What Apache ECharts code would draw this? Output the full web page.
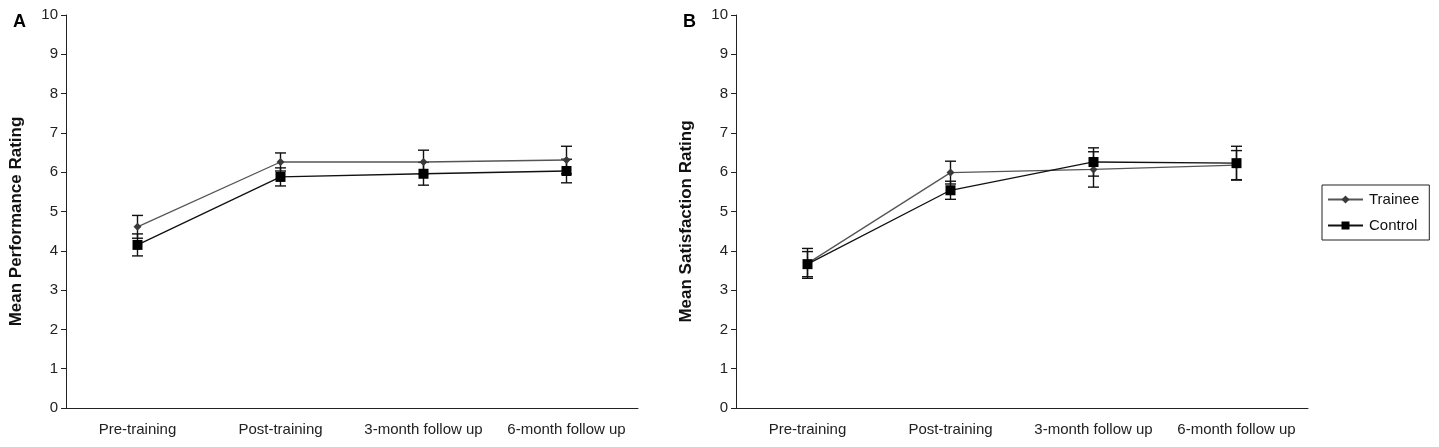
<!DOCTYPE html>
<html>
<head>
<meta charset="utf-8">
<script src="https://cdn.jsdelivr.net/npm/echarts@6/dist/echarts.min.js"></script>
<style>
  html, body { margin: 0; padding: 0; background: #fff; }
  #chart { width: 1439px; height: 447px; }
</style>
</head>
<body>
<div id="chart"></div>
<script>
// categories
const phases = ['Pre-training', 'Post-training', '3-month follow up', '6-month follow up']

// panel A - performance
const perfTrainee = [4.61, 6.26, 6.26, 6.31]
const perfTraineeErr = [0.29, 0.23, 0.30, 0.35]
const perfControl = [4.15, 5.88, 5.96, 6.03]
const perfControlErr = [0.28, 0.23, 0.29, 0.30]

// panel B - satisfaction
const satTrainee = [3.68, 5.99, 6.07, 6.18]
const satTraineeErr = [0.38, 0.29, 0.45, 0.37]
const satControl = [3.66, 5.54, 6.26, 6.23]
const satControlErr = [0.32, 0.23, 0.36, 0.43]

const font = 'Liberation Sans, Arial, sans-serif'

function errData(vals, errs) {
  return vals.map((v, i) => [i, v - errs[i], v + errs[i]])
}

function errSeries(name, vals, errs, idx) {
  return {
    type: 'custom',
    name: name + ' err',
    xAxisIndex: idx,
    yAxisIndex: idx,
    z: 1,
    silent: true,
    data: errData(vals, errs),
    encode: { x: 0, y: [1, 2] },
    renderItem: function (params, api) {
      const lo = api.coord([api.value(0), api.value(1)])
      const hi = api.coord([api.value(0), api.value(2)])
      const w = 5.5
      const st = { stroke: '#111', lineWidth: 1.4 }
      return {
        type: 'group',
        children: [
          { type: 'line', shape: { x1: lo[0], y1: lo[1], x2: hi[0], y2: hi[1] }, style: st },
          { type: 'line', shape: { x1: lo[0] - w, y1: lo[1], x2: lo[0] + w, y2: lo[1] }, style: st },
          { type: 'line', shape: { x1: hi[0] - w, y1: hi[1], x2: hi[0] + w, y2: hi[1] }, style: st }
        ]
      }
    }
  }
}

function lineSeries(name, vals, idx) {
  const trainee = name === 'Trainee'
  return {
    type: 'line',
    name: name,
    xAxisIndex: idx,
    yAxisIndex: idx,
    z: 3,
    data: vals,
    symbol: trainee ? 'diamond' : 'rect',
    symbolSize: trainee ? 8 : 10,
    itemStyle: { color: trainee ? '#3a3a3a' : '#000' },
    lineStyle: { color: trainee ? '#555' : '#111', width: 1.3 },
    emphasis: { disabled: true }
  }
}

function xAx(idx) {
  return {
    type: 'category',
    gridIndex: idx,
    data: phases,
    boundaryGap: true,
    axisLine: { lineStyle: { color: '#222', width: 1 } },
    axisTick: { alignWithLabel: false, length: 5, lineStyle: { color: '#222' } },
    axisLabel: { interval: 0, hideOverlap: false, color: '#222', fontFamily: font, fontSize: 15, margin: 14 }
  }
}

function yAx(idx, title) {
  return {
    type: 'value',
    gridIndex: idx,
    min: 0,
    max: 10,
    interval: 1,
    name: title,
    nameLocation: 'middle',
    nameGap: 41,
    nameTextStyle: { color: '#111', fontFamily: font, fontSize: 17, fontWeight: 'bold', padding: [0, 20, 0, 0] },
    splitLine: { show: false },
    axisLine: { show: true, lineStyle: { color: '#222', width: 1 } },
    axisTick: { show: true, length: 5, lineStyle: { color: '#222' } },
    axisLabel: { color: '#222', fontFamily: font, fontSize: 15, margin: 8 }
  }
}

const chart = echarts.init(document.getElementById('chart'))
chart.setOption({
  animation: false,
  backgroundColor: '#fff',
  title: [
    { text: 'A', left: 8, top: 8, textStyle: { fontFamily: font, fontSize: 18, fontWeight: 'bold', color: '#000' } },
    { text: 'B', left: 678, top: 8, textStyle: { fontFamily: font, fontSize: 18, fontWeight: 'bold', color: '#000' } }
  ],
  legend: {
    data: ['Trainee', 'Control'],
    orient: 'vertical',
    left: 1322,
    top: 185,
    borderColor: '#222',
    borderWidth: 1,
    padding: [7, 10, 7, 5],
    itemGap: 11,
    itemWidth: 35,
    itemHeight: 10,
    textStyle: { fontFamily: font, fontSize: 15, color: '#111', padding: [0, 0, 0, 1] }
  },
  grid: [
    { left: 66, top: 15, width: 572, height: 393 },
    { left: 736, top: 15, width: 572, height: 393 }
  ],
  xAxis: [xAx(0), xAx(1)],
  yAxis: [yAx(0, 'Mean Performance Rating'), yAx(1, 'Mean Satisfaction Rating')],
  series: [
    errSeries('Trainee', perfTrainee, perfTraineeErr, 0),
    errSeries('Control', perfControl, perfControlErr, 0),
    lineSeries('Trainee', perfTrainee, 0),
    lineSeries('Control', perfControl, 0),
    errSeries('Trainee', satTrainee, satTraineeErr, 1),
    errSeries('Control', satControl, satControlErr, 1),
    lineSeries('Trainee', satTrainee, 1),
    lineSeries('Control', satControl, 1)
  ]
})
</script>
</body>
</html>
